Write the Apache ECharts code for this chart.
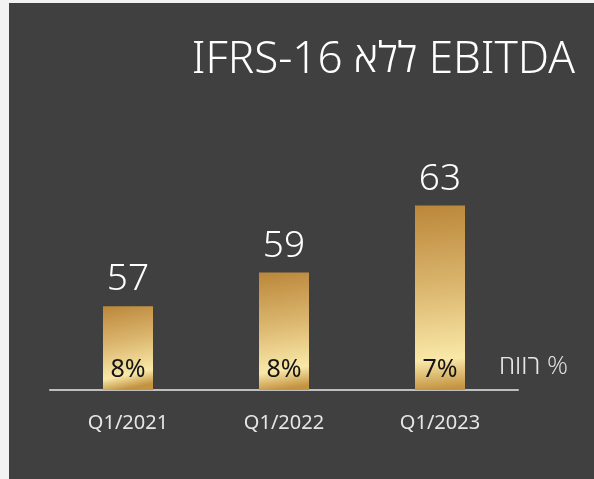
<!DOCTYPE html>
<html>
<head>
<meta charset="utf-8">
<script src="https://cdn.jsdelivr.net/npm/echarts@6/dist/echarts.min.js"></script>
<style>
  html, body { margin: 0; padding: 0; background: #f2f2f2; }
  #main { position: absolute; left: 9px; top: 3px; width: 585px; height: 476px; background: #404040; }
</style>
</head>
<body>
<div id="main"></div>
<script>
var quarters = ['Q1/2021', 'Q1/2022', 'Q1/2023'];
var ebitda = [57, 59, 63];
var margins = ['8%', '8%', '7%'];

var font = '"Noto Sans", sans-serif';
var hebFont = '"Open Sans", "DejaVu Sans", sans-serif';

var gold = new echarts.graphic.LinearGradient(0, 0, 0.35, 1, [
  { offset: 0, color: '#bb873a' },
  { offset: 0.45, color: '#dbb66e' },
  { offset: 0.84, color: '#f9e8a8' },
  { offset: 1, color: '#c39340' }
]);

var chart = echarts.init(document.getElementById('main'));

chart.setOption({
  backgroundColor: '#404040',
  title: {
    // Hebrew word kept in its own token with its own font
    text: '{a|IFRS-16 }{h|ללא}{a| EBITDA}',
    right: 14,
    top: 30,
    textStyle: {
      rich: {
        a: { color: '#ffffff', fontFamily: font, fontWeight: 300, fontSize: 44 },
        h: { color: '#ffffff', fontFamily: hebFont, fontWeight: 300, fontSize: 42 }
      }
    }
  },
  grid: { left: 41, right: 76, top: 127, bottom: 89 },
  xAxis: {
    type: 'category',
    data: quarters,
    axisLine: { lineStyle: { color: '#bfbfbf', width: 2 } },
    axisTick: { show: false },
    axisLabel: { color: '#e6e6e6', fontFamily: font, fontSize: 20, margin: 23 }
  },
  yAxis: {
    type: 'value',
    min: 52,
    max: 67.5,
    show: false,
    splitLine: { show: false }
  },
  series: [
    {
      type: 'bar',
      data: ebitda,
      barWidth: 50,
      itemStyle: { color: gold },
      label: {
        show: true,
        position: 'top',
        distance: 8,
        color: '#ffffff',
        fontFamily: font,
        fontWeight: 300,
        fontSize: 37
      }
    },
    {
      type: 'bar',
      data: ebitda,
      barWidth: 50,
      barGap: '-100%',
      silent: true,
      itemStyle: { color: 'rgba(0,0,0,0)' },
      label: {
        show: true,
        position: 'insideBottom',
        distance: 8,
        color: '#141414',
        fontFamily: font,
        fontSize: 25,
        formatter: function (p) { return margins[p.dataIndex]; }
      }
    }
  ],
  graphic: [{
    type: 'text',
    right: 26,
    top: 351,
    style: { text: 'רווח %', fill: '#e6e6e6', font: '300 26px "Open Sans", "Noto Sans", sans-serif' }
  }]
});
</script>
</body>
</html>
